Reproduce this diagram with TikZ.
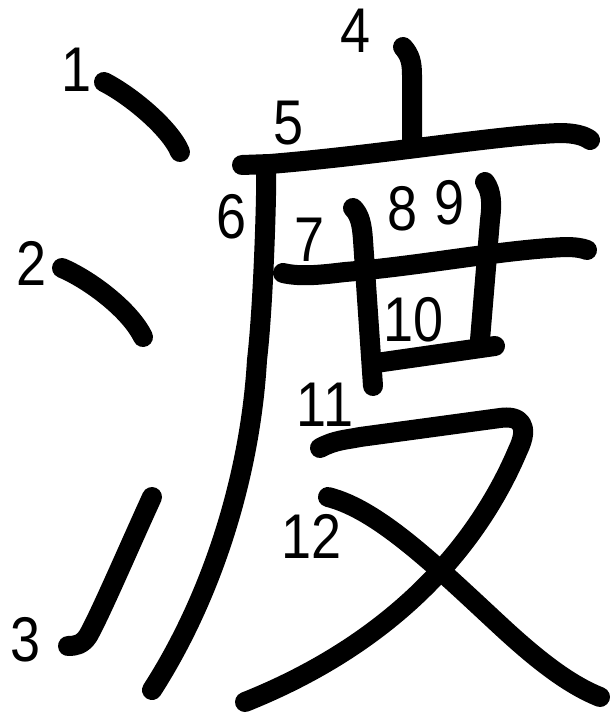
\documentclass[tikz,border=0pt]{standalone}
\usepackage{fontspec}
\setmainfont{Liberation Sans}
\begin{document}
\begin{tikzpicture}[x=1pt,y=-1pt,
  kstroke/.style={line width=20pt, line cap=round, line join=round},
  num/.style={font=\fontsize{54}{54}\selectfont, yscale=1.17, inner sep=0pt}]
\useasboundingbox (0,0) rectangle (610,720);
% strokes
\draw[kstroke] (104,82) .. controls (130,95) and (170,128) .. (180,152);
\draw[kstroke] (62,268) .. controls (90,280) and (130,310) .. (143,337);
\draw[kstroke] (152,497) .. controls (130,545) and (100,615) .. (88,636) .. controls (82,645) and (75,646) .. (68,646);
\draw[kstroke] (403,47) .. controls (410,55) and (412,62) .. (412,75) -- (412,142);
\draw[kstroke] (242,165) -- (270,164) .. controls (380,155) and (500,135) .. (560,133) .. controls (575,133) and (585,136) .. (590,140);
\draw[kstroke] (266,172) .. controls (267,178) and (264,300) .. (257,360) .. controls (250,480) and (210,600) .. (152,690);
\draw[kstroke] (283,273) .. controls (300,277) and (320,275) .. (345,272) .. controls (420,266) and (500,250) .. (565,247) .. controls (575,247) and (582,248) .. (587,250);
\draw[kstroke] (353,208) .. controls (360,215) and (362,225) .. (363,240) -- (373,386);
\draw[kstroke] (485,182) .. controls (492,192) and (492,205) .. (490,220) -- (480,340);
\draw[kstroke] (376,363) -- (495,346);
\draw[kstroke] (320,448) .. controls (335,440) and (345,440) .. (360,437) -- (500,418) .. controls (520,415) and (530,425) .. (518,450) .. controls (480,540) and (400,640) .. (245,702);
\draw[kstroke] (328,497) .. controls (380,510) and (440,570) .. (505,630) .. controls (540,662) and (570,685) .. (600,697);
% labels
\node[num] (n1) at (77,70) {1};
\node[num] (n2) at (32,263) {2};
\node[num] (n3) at (26,640) {3};
\node[num] (n4) at (356,31) {4};
\node[num] (n5) at (289,123) {5};
\node[num] (n6) at (232,217) {6};
\node[num] (n7) at (310,240) {7};
\node[num] (n8) at (403,209) {8};
\node[num] (n9) at (450,203) {9};
\node[num] (n10) at (414,320) {10};
\node[num] (n11) at (325,405) {11};
\node[num] (n12) at (312,536) {12};
\end{tikzpicture}
\end{document}
